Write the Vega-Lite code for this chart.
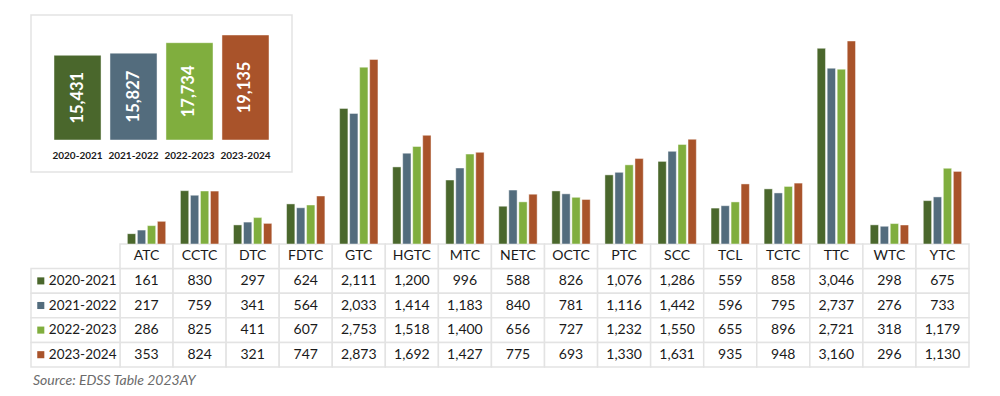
{
  "$schema": "https://vega.github.io/schema/vega-lite/v6.json",
  "width": 1000,
  "height": 396,
  "autosize": {"type": "none"},
  "padding": 0,
  "background": "white",
  "config": {
    "view": {"stroke": null},
    "font": "Lato",
    "axis": {"disable": true},
    "legend": {"disable": true}
  },
  "title": {
    "text": "Source: EDSS Table 2023AY",
    "orient": "bottom",
    "anchor": "start",
    "frame": "group",
    "offset": -22,
    "dx": 33,
    "font": "Lato",
    "fontSize": 14,
    "fontStyle": "italic",
    "fontWeight": "normal",
    "color": "#6b6b6b"
  },
  "datasets": {
    "years": [
      {"year": "2020-2021", "total": 15431},
      {"year": "2021-2022", "total": 15827},
      {"year": "2022-2023", "total": 17734},
      {"year": "2023-2024", "total": 19135}
    ],
    "enroll": [
      {"college": "ATC", "year": "2020-2021", "value": 161},
      {"college": "CCTC", "year": "2020-2021", "value": 830},
      {"college": "DTC", "year": "2020-2021", "value": 297},
      {"college": "FDTC", "year": "2020-2021", "value": 624},
      {"college": "GTC", "year": "2020-2021", "value": 2111},
      {"college": "HGTC", "year": "2020-2021", "value": 1200},
      {"college": "MTC", "year": "2020-2021", "value": 996},
      {"college": "NETC", "year": "2020-2021", "value": 588},
      {"college": "OCTC", "year": "2020-2021", "value": 826},
      {"college": "PTC", "year": "2020-2021", "value": 1076},
      {"college": "SCC", "year": "2020-2021", "value": 1286},
      {"college": "TCL", "year": "2020-2021", "value": 559},
      {"college": "TCTC", "year": "2020-2021", "value": 858},
      {"college": "TTC", "year": "2020-2021", "value": 3046},
      {"college": "WTC", "year": "2020-2021", "value": 298},
      {"college": "YTC", "year": "2020-2021", "value": 675},
      {"college": "ATC", "year": "2021-2022", "value": 217},
      {"college": "CCTC", "year": "2021-2022", "value": 759},
      {"college": "DTC", "year": "2021-2022", "value": 341},
      {"college": "FDTC", "year": "2021-2022", "value": 564},
      {"college": "GTC", "year": "2021-2022", "value": 2033},
      {"college": "HGTC", "year": "2021-2022", "value": 1414},
      {"college": "MTC", "year": "2021-2022", "value": 1183},
      {"college": "NETC", "year": "2021-2022", "value": 840},
      {"college": "OCTC", "year": "2021-2022", "value": 781},
      {"college": "PTC", "year": "2021-2022", "value": 1116},
      {"college": "SCC", "year": "2021-2022", "value": 1442},
      {"college": "TCL", "year": "2021-2022", "value": 596},
      {"college": "TCTC", "year": "2021-2022", "value": 795},
      {"college": "TTC", "year": "2021-2022", "value": 2737},
      {"college": "WTC", "year": "2021-2022", "value": 276},
      {"college": "YTC", "year": "2021-2022", "value": 733},
      {"college": "ATC", "year": "2022-2023", "value": 286},
      {"college": "CCTC", "year": "2022-2023", "value": 825},
      {"college": "DTC", "year": "2022-2023", "value": 411},
      {"college": "FDTC", "year": "2022-2023", "value": 607},
      {"college": "GTC", "year": "2022-2023", "value": 2753},
      {"college": "HGTC", "year": "2022-2023", "value": 1518},
      {"college": "MTC", "year": "2022-2023", "value": 1400},
      {"college": "NETC", "year": "2022-2023", "value": 656},
      {"college": "OCTC", "year": "2022-2023", "value": 727},
      {"college": "PTC", "year": "2022-2023", "value": 1232},
      {"college": "SCC", "year": "2022-2023", "value": 1550},
      {"college": "TCL", "year": "2022-2023", "value": 655},
      {"college": "TCTC", "year": "2022-2023", "value": 896},
      {"college": "TTC", "year": "2022-2023", "value": 2721},
      {"college": "WTC", "year": "2022-2023", "value": 318},
      {"college": "YTC", "year": "2022-2023", "value": 1179},
      {"college": "ATC", "year": "2023-2024", "value": 353},
      {"college": "CCTC", "year": "2023-2024", "value": 824},
      {"college": "DTC", "year": "2023-2024", "value": 321},
      {"college": "FDTC", "year": "2023-2024", "value": 747},
      {"college": "GTC", "year": "2023-2024", "value": 2873},
      {"college": "HGTC", "year": "2023-2024", "value": 1692},
      {"college": "MTC", "year": "2023-2024", "value": 1427},
      {"college": "NETC", "year": "2023-2024", "value": 775},
      {"college": "OCTC", "year": "2023-2024", "value": 693},
      {"college": "PTC", "year": "2023-2024", "value": 1330},
      {"college": "SCC", "year": "2023-2024", "value": 1631},
      {"college": "TCL", "year": "2023-2024", "value": 935},
      {"college": "TCTC", "year": "2023-2024", "value": 948},
      {"college": "TTC", "year": "2023-2024", "value": 3160},
      {"college": "WTC", "year": "2023-2024", "value": 296},
      {"college": "YTC", "year": "2023-2024", "value": 1130}
    ]
  },
  "resolve": {"scale": {"x": "independent", "y": "independent"}},
  "layer": [
    {
      "data": {"values": [{"k": "box"}]},
      "mark": {"type": "rect", "fill": "white", "stroke": "#e3e3e3", "strokeWidth": 1.5},
      "encoding": {
        "x": {"field": "k", "type": "nominal", "axis": null, "scale": {"domain": ["box"], "range": [31, 292], "paddingInner": 0, "paddingOuter": 0}},
        "y": {"field": "k", "type": "nominal", "axis": null, "scale": {"domain": ["box"], "range": [15, 172], "paddingInner": 0, "paddingOuter": 0}}
      }
    },
    {
      "data": {"name": "years"},
      "resolve": {"scale": {"y": "independent"}},
      "encoding": {
        "x": {"field": "year", "type": "nominal", "axis": null, "scale": {"range": [54, 269], "paddingInner": 0.16, "paddingOuter": 0}}
      },
      "layer": [
        {
          "mark": {"type": "bar", "stroke": "white", "strokeOpacity": 0.45, "strokeWidth": 1},
          "encoding": {
            "y": {"field": "total", "type": "quantitative", "axis": null, "scale": {"domain": [0, 19135], "range": [140, 35], "nice": false, "zero": true}},
            "color": {"field": "year", "type": "nominal", "legend": null, "scale": {"domain": ["2020-2021", "2021-2022", "2022-2023", "2023-2024"], "range": ["#4a672c", "#536c7d", "#80ae3e", "#a9532a"]}}
          }
        },
        {
          "mark": {"type": "text", "angle": 270, "align": "center", "baseline": "middle", "font": "Lato", "fontSize": 16.5, "fontWeight": "bold", "color": "white"},
          "encoding": {
            "y": {"field": "total", "type": "quantitative", "axis": null, "scale": {"domain": [0, 19135], "range": [140, 87.5], "nice": false, "zero": true}},
            "text": {"field": "total", "type": "quantitative", "format": ","}
          }
        },
        {
          "mark": {"type": "text", "align": "center", "baseline": "middle", "font": "Lato", "fontSize": 10, "fontWeight": "bold", "color": "#1a1a1a"},
          "encoding": {
            "y": {"datum": "lbl", "type": "nominal", "axis": null, "scale": {"domain": ["lbl"], "range": [148, 164], "paddingInner": 0, "paddingOuter": 0}},
            "text": {"field": "year", "type": "nominal"}
          }
        }
      ]
    },
    {
      "data": {"name": "enroll"},
      "encoding": {
        "x": {"field": "college", "type": "nominal", "axis": null, "sort": null, "scale": {"domain": ["ATC", "CCTC", "DTC", "FDTC", "GTC", "HGTC", "MTC", "NETC", "OCTC", "PTC", "SCC", "TCL", "TCTC", "TTC", "WTC", "YTC"], "range": [120, 969], "paddingInner": 0, "paddingOuter": 0}}
      },
      "layer": [
        {
          "mark": {"type": "rect", "fill": "white", "stroke": "#e3e3e3", "strokeWidth": 1.5},
          "encoding": {
            "y": {"field": "year", "type": "nominal", "axis": null, "scale": {"domain": ["College", "2020-2021", "2021-2022", "2022-2023", "2023-2024"], "range": [244, 367], "paddingInner": 0, "paddingOuter": 0}}
          }
        },
        {
          "mark": {"type": "text", "align": "center", "baseline": "middle", "font": "Lato", "fontSize": 14, "color": "#1a1a1a"},
          "encoding": {
            "y": {"field": "year", "type": "nominal", "axis": null},
            "text": {"field": "value", "type": "quantitative", "format": ","}
          }
        },
        {
          "transform": [{"filter": "datum.year == '2020-2021'"}],
          "mark": {"type": "rect", "fill": "white", "stroke": "#e3e3e3", "strokeWidth": 1.5},
          "encoding": {
            "y": {"datum": "College", "type": "nominal", "axis": null}
          }
        },
        {
          "transform": [{"filter": "datum.year == '2020-2021'"}],
          "mark": {"type": "text", "align": "center", "baseline": "middle", "font": "Lato", "fontSize": 14, "color": "#1a1a1a"},
          "encoding": {
            "y": {"datum": "College", "type": "nominal", "axis": null},
            "text": {"field": "college", "type": "nominal"}
          }
        }
      ]
    },
    {
      "data": {"name": "years"},
      "encoding": {
        "y": {"field": "year", "type": "nominal", "axis": null, "scale": {"domain": ["College", "2020-2021", "2021-2022", "2022-2023", "2023-2024"], "range": [244, 367], "paddingInner": 0, "paddingOuter": 0}}
      },
      "layer": [
        {
          "mark": {"type": "rect", "fill": "white", "stroke": "#e3e3e3", "strokeWidth": 1.5},
          "encoding": {
            "x": {"datum": "lbl", "type": "nominal", "axis": null, "scale": {"domain": ["lbl"], "range": [31, 120], "paddingInner": 0, "paddingOuter": 0}}
          }
        },
        {
          "mark": {"type": "point", "shape": "square", "filled": true, "opacity": 1, "size": 50},
          "encoding": {
            "x": {"datum": "lbl", "type": "nominal", "axis": null, "bandPosition": 0.11},
            "color": {"field": "year", "type": "nominal", "legend": null, "scale": {"domain": ["2020-2021", "2021-2022", "2022-2023", "2023-2024"], "range": ["#4a672c", "#536c7d", "#80ae3e", "#a9532a"]}}
          }
        },
        {
          "mark": {"type": "text", "align": "left", "baseline": "middle", "font": "Lato", "fontSize": 13.5, "color": "#1a1a1a"},
          "encoding": {
            "x": {"datum": "lbl", "type": "nominal", "axis": null, "bandPosition": 0.2},
            "text": {"field": "year", "type": "nominal"}
          }
        }
      ]
    },
    {
      "data": {"name": "enroll"},
      "mark": {"type": "bar", "stroke": "white", "strokeOpacity": 0.45, "strokeWidth": 1},
      "encoding": {
        "x": {"field": "college", "type": "nominal", "axis": null, "sort": null, "scale": {"domain": ["ATC", "CCTC", "DTC", "FDTC", "GTC", "HGTC", "MTC", "NETC", "OCTC", "PTC", "SCC", "TCL", "TCTC", "TTC", "WTC", "YTC"], "range": [120, 969], "paddingInner": 0, "paddingOuter": 0}},
        "xOffset": {"field": "year", "type": "nominal", "scale": {"domain": ["2020-2021", "2021-2022", "2022-2023", "2023-2024"], "paddingInner": 0.17, "paddingOuter": 0.735}},
        "y": {"field": "value", "type": "quantitative", "axis": null, "scale": {"domain": [0, 3160], "range": [244, 41], "nice": false, "zero": true}},
        "color": {"field": "year", "type": "nominal", "legend": null, "scale": {"domain": ["2020-2021", "2021-2022", "2022-2023", "2023-2024"], "range": ["#4a672c", "#536c7d", "#80ae3e", "#a9532a"]}}
      }
    }
  ]
}
